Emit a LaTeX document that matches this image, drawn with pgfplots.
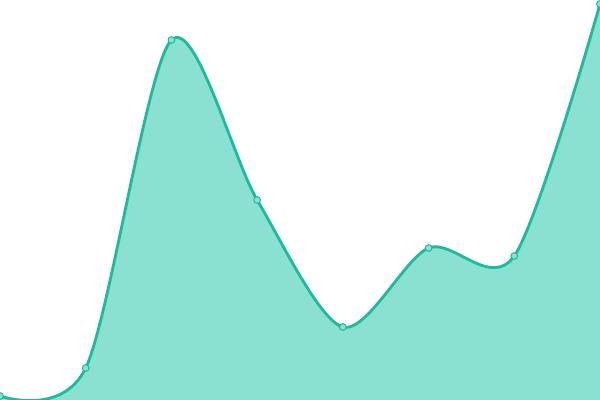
\documentclass[border=0pt]{standalone}
\usepackage{pgfplots}
\pgfplotsset{compat=1.18}
\definecolor{lineteal}{HTML}{1ABC9C}
\definecolor{fillteal}{HTML}{8AE0D1}
\begin{document}
\begin{tikzpicture}
  \begin{axis}[
      scale only axis,
      width=15cm, height=10cm,
      hide axis,
      xmin=0, xmax=7,
      ymin=0, ymax=400,
      clip marker paths=true,
    ]
    \addplot[fill=fillteal, draw=none, smooth, tension=0.5] coordinates {
      (0,4) (1,32) (2,360) (3,200) (4,73) (5,152) (6,144) (7,396)
    } \closedcycle;
    \addplot[lineteal, line width=2pt, smooth, tension=0.5,
      mark=*, mark size=2.4pt,
      mark options={fill=fillteal, draw=lineteal, line width=0.7pt}] coordinates {
      (0,4) (1,32) (2,360) (3,200) (4,73) (5,152) (6,144) (7,396)
    };
  \end{axis}
  \pgfresetboundingbox
  \path (current axis.south west) rectangle (current axis.north east);
\end{tikzpicture}
\end{document}
